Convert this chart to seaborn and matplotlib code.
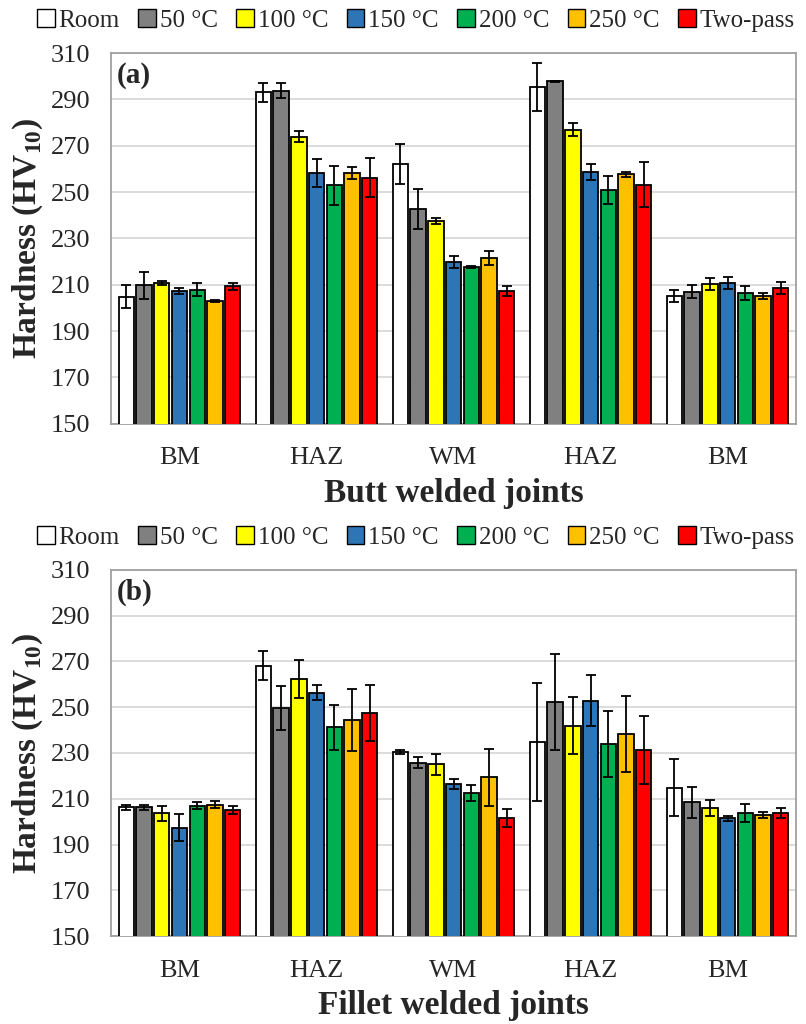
import matplotlib
matplotlib.use("Agg")
import matplotlib.pyplot as plt
import seaborn as sns
import pandas as pd
import numpy as np
from matplotlib.patches import Patch

sns.set_theme(style="white")
plt.rcParams['font.family'] = ['Liberation Serif', 'DejaVu Serif']
plt.rcParams['mathtext.fontset'] = 'custom'
plt.rcParams['mathtext.rm'] = 'Liberation Serif'
plt.rcParams['mathtext.bf'] = 'Liberation Serif:bold'

# data
zones = ["BM", "HAZ", "WM", "HAZ", "BM"]
conditions = ["Room", "50 °C", "100 °C", "150 °C", "200 °C", "250 °C", "Two-pass"]
colors = ["#FFFFFF", "#808080", "#FFFF00", "#2E75B6", "#00B050", "#FFC000", "#FF0000"]

# butt welded joints, one row per condition, columns follow zones
butt_mean = [
    [204.8, 293.0, 262.2, 295.3, 205.1],
    [209.7, 293.7, 242.7, 297.8, 207.0],
    [210.7, 273.9, 237.5, 276.9, 210.4],
    [207.4, 258.2, 219.8, 258.5, 210.7],
    [207.8, 252.9, 217.6, 250.9, 206.5],
    [202.9, 258.2, 221.7, 257.6, 205.1],
    [209.3, 256.2, 207.3, 253.2, 208.6],
]
butt_err = [
    [5.0, 4.0, 8.6, 10.2, 2.6],
    [5.8, 3.2, 8.6, 0.3, 2.9],
    [0.7, 2.4, 1.2, 2.9, 2.5],
    [1.4, 6.1, 2.4, 3.4, 2.7],
    [2.8, 8.5, 0.3, 6.0, 3.1],
    [0.5, 2.5, 3.0, 1.2, 1.2],
    [1.6, 8.5, 2.0, 9.6, 2.4],
]

# fillet welded joints
fillet_mean = [
    [206.2, 268.2, 230.4, 234.7, 214.8],
    [206.2, 249.7, 225.8, 252.2, 208.4],
    [203.6, 262.3, 225.0, 242.0, 206.1],
    [197.4, 256.4, 216.4, 252.9, 201.5],
    [206.9, 241.2, 212.6, 233.9, 203.7],
    [207.4, 244.3, 219.3, 238.2, 203.0],
    [205.0, 247.4, 201.5, 231.2, 203.7],
]
fillet_err = [
    [0.9, 6.3, 0.7, 25.7, 12.4],
    [0.9, 9.6, 2.3, 21.0, 6.7],
    [3.3, 8.2, 4.5, 12.4, 3.5],
    [5.8, 3.4, 2.3, 11.0, 1.1],
    [1.5, 9.9, 3.6, 14.6, 4.0],
    [1.5, 13.5, 12.4, 16.7, 1.3],
    [1.7, 12.3, 4.0, 14.9, 2.1],
]


def make_df(means, errs):
    rows = []
    for ci, cond in enumerate(conditions):
        for zi in range(len(zones)):
            rows.append({"pos": zi, "cond": cond,
                         "hardness": means[ci][zi], "err": errs[ci][zi]})
    return pd.DataFrame(rows)


fig = plt.figure(figsize=(8.06, 10.24), dpi=100)
ax_a = fig.add_axes([0.1377, 0.5862, 0.85, 0.362])
ax_b = fig.add_axes([0.1377, 0.0859, 0.85, 0.3575])

panels = [(ax_a, butt_mean, butt_err, "(a)", "Butt welded joints"),
          (ax_b, fillet_mean, fillet_err, "(b)", "Fillet welded joints")]

for ax, means, errs, tag, xlab in panels:
    df = make_df(means, errs)
    sns.barplot(data=df, x="pos", y="hardness", hue="cond", hue_order=conditions,
                palette=colors, saturation=1, errorbar=None, width=0.905,
                gap=0.13, edgecolor="black", linewidth=1.3, legend=False,
                ax=ax, zorder=3)
    # error bars on each bar
    bar_conts = list(ax.containers)
    for ci, cont in enumerate(bar_conts):
        for zi, bar in enumerate(cont):
            xc = bar.get_x() + bar.get_width() / 2
            ax.errorbar(xc, bar.get_height(), yerr=errs[ci][zi], fmt="none",
                        ecolor="black", elinewidth=1.3, capsize=3.5,
                        capthick=1.3, zorder=4)
    ax.set_ylim(150, 310)
    ax.set_yticks(np.arange(150, 311, 20))
    ax.set_xlim(-0.5, 4.5)
    ax.set_xticks(range(len(zones)))
    ax.set_xticklabels(zones)
    ax.tick_params(axis="both", length=0, labelsize=19)
    ax.tick_params(axis="x", pad=17)
    ax.tick_params(axis="y", pad=15)
    ax.yaxis.grid(True, color="#D9D9D9", linewidth=1.3, zorder=0)
    ax.set_axisbelow(True)
    for sp in ax.spines.values():
        sp.set_color("#A0A0A0")
        sp.set_linewidth(1.3)
    ax.set_xlabel(xlab, fontsize=24, fontweight="bold", labelpad=6)
    ax.set_ylabel(r"Hardness (HV$_{\mathbf{10}}$)", fontsize=24,
                  fontweight="bold", labelpad=4)
    ax.text(0.008, 0.975, tag, transform=ax.transAxes, fontsize=21,
            fontweight="bold", va="top", ha="left")
    handles = [Patch(facecolor=c, edgecolor="black", linewidth=1.0)
               for c in colors]
    ax.legend(handles, conditions, loc="lower center",
              bbox_to_anchor=(0.445, 1.03), ncol=7, frameon=False,
              fontsize=18, handlelength=0.7, handleheight=0.7,
              handletextpad=0.15, columnspacing=0.75, borderaxespad=0)

fig.savefig("out.png", dpi=100)
